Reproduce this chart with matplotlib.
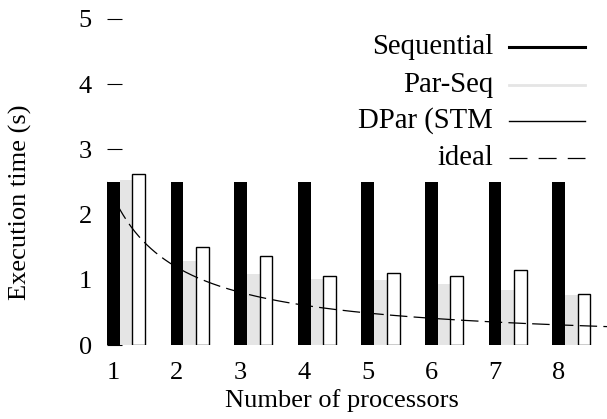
import numpy as np
import matplotlib
matplotlib.use("Agg")
import matplotlib.pyplot as plt
from matplotlib.lines import Line2D

processors = [1, 2, 3, 4, 5, 6, 7, 8]
sequential = [2.50, 2.50, 2.50, 2.50, 2.50, 2.50, 2.50, 2.50]
par_seq = [2.53, 1.29, 1.09, 1.01, 0.99, 0.93, 0.85, 0.77]
dpar_stm = [2.63, 1.50, 1.37, 1.06, 1.11, 1.06, 1.15, 0.78]
y_ticks = [0, 1, 2, 3, 4, 5]
seq_time = 2.5

plt.rcParams['font.family'] = ['Liberation Serif', 'DejaVu Serif']
FS = 19
LFS = 20.7

W, H = 607, 419
fig = plt.figure(figsize=(W / 100, H / 100), dpi=100)
ax_left, ax_right = 107 / W, 1.0
ax_bottom, ax_top = (H - 345) / H, (H - 19) / H
ax = fig.add_axes([ax_left, ax_bottom, ax_right - ax_left, ax_top - ax_bottom])

x = np.array(processors, dtype=float)
bw = 0.2
ax.bar(x, sequential, width=bw, color='black', linewidth=0, zorder=1)
ax.bar(x + bw, par_seq, width=bw, color='#e5e5e5', linewidth=0, zorder=1)
ax.bar(x + 2 * bw, dpar_stm, width=bw, facecolor='white', edgecolor='black', linewidth=1.0, zorder=1.1)

xmin = 0.9
xmax = xmin + (W - 107) / 63.6
xs = np.linspace(xmin, xmax + 0.5, 400)
ideal = seq_time / (xs + 0.1)
ax.plot(xs, ideal, color='black', linewidth=0.9, dashes=(14, 5), zorder=3)

ax.set_xlim(xmin, xmax)
ax.set_ylim(0, 5)
for s in ax.spines.values():
    s.set_visible(False)
ax.set_axisbelow(True)
ax.set_yticks(y_ticks)
ax.set_yticklabels([str(v) for v in y_ticks], fontsize=FS)
ax.tick_params(axis='y', direction='in', length=10.5, width=0.8, pad=11)
ax.set_xticks(x)
ax.set_xticklabels([str(p) for p in processors], fontsize=FS)
ax.tick_params(axis='x', length=0, pad=12)

fig.text(20 / W, 1 - 202 / H, 'Execution time (s)', rotation=90, ha='center', va='center', fontsize=FS)
fig.text(342 / W, 1 - 401 / H, 'Number of processors', ha='center', va='center', fontsize=FS)

legend_rows = [
    ('Sequential', dict(color='black', linewidth=2.2)),
    ('Par-Seq', dict(color='#e5e5e5', linewidth=2.0)),
    ('DPar (STM', dict(color='black', linewidth=1.0)),
    ('ideal', dict(color='black', linewidth=0.9, dashes=(14.4, 8.9))),
]
row_y = [47, 85, 121, 158]
for (label, style), yy in zip(legend_rows, row_y):
    fy = 1 - yy / H
    fig.text(493 / W, fy, label, ha='right', va='center', fontsize=LFS)
    fig.add_artist(Line2D([509 / W, 585 / W], [fy, fy], transform=fig.transFigure, **style))

fig.savefig('out.png', dpi=100)
